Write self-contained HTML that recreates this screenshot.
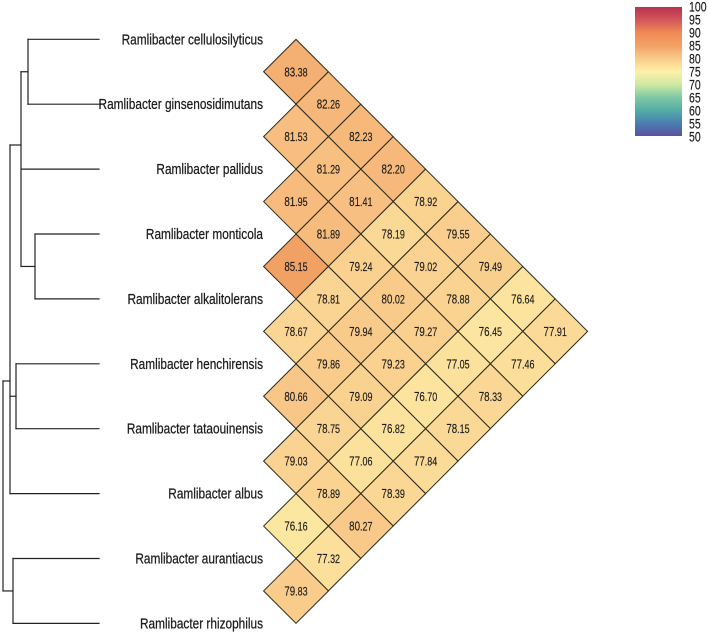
<!DOCTYPE html>
<html>
<head>
<meta charset="utf-8">
<style>
html,body{margin:0;padding:0;background:#fff;}
svg{display:block;}
text{font-family:"Liberation Sans",sans-serif;fill:#1c1c1c;}
</style>
</head>
<body>
<svg id="chart" xmlns="http://www.w3.org/2000/svg" width="708" height="634" viewBox="0 0 708 634">
<defs>
<linearGradient id="bar-gradient" x1="0" y1="1" x2="0" y2="0"></linearGradient>
</defs>
<rect x="635" y="7" width="47" height="129" fill="url(#bar-gradient)"></rect>
<g id="tree"></g>
<g id="labels"></g>
<g id="cells"></g>
<g id="ticks"></g>
</svg>
<script>
const species = ["Ramlibacter cellulosilyticus","Ramlibacter ginsenosidimutans","Ramlibacter pallidus","Ramlibacter monticola","Ramlibacter alkalitolerans","Ramlibacter henchirensis","Ramlibacter tataouinensis","Ramlibacter albus","Ramlibacter aurantiacus","Ramlibacter rhizophilus"];
const rowCellulosilyticus = [83.38,82.26,82.23,82.20,78.92,79.55,79.49,76.64,77.91];
const rowGinsenosidimutans = [81.53,81.29,81.41,78.19,79.02,78.88,76.45,77.46];
const rowPallidus = [81.95,81.89,79.24,80.02,79.27,77.05,78.33];
const rowMonticola = [85.15,78.81,79.94,79.23,76.70,78.15];
const rowAlkalitolerans = [78.67,79.86,79.09,76.82,77.84];
const rowHenchirensis = [80.66,78.75,77.06,78.39];
const rowTataouinensis = [79.03,78.89,80.27];
const rowAlbus = [76.16,77.32];
const rowAurantiacus = [79.83];
const identityRows = [rowCellulosilyticus,rowGinsenosidimutans,rowPallidus,rowMonticola,rowAlkalitolerans,rowHenchirensis,rowTataouinensis,rowAlbus,rowAurantiacus];
const colorTicks = [100,95,90,85,80,75,70,65,60,55,50];
const paletteValues = [50,55,60,65,70,75,80,85,90,95,100];
const paletteColors = ["#5b50a0","#4a7fb0","#55aca6","#7fc8a5","#cfe9a3","#fdf0a8","#f9cb8b","#f2a266","#f18a55","#d4565a","#b9334f"];
const treeLeafEnd = 99;
const tree = {x:3,kids:[
  {x:10,y:381,kids:[
    {x:21,y:145,kids:[
      {x:28,kids:[{leaf:0},{leaf:1}]},
      {leaf:2},
      {x:35,kids:[{leaf:3},{leaf:4}]}
    ]},
    {x:16,kids:[{leaf:5},{leaf:6}]},
    {leaf:7}
  ]},
  {x:13,kids:[{leaf:8},{leaf:9}]}
]};

const NS = "http://www.w3.org/2000/svg";
function make(tag, attrs, parent){
  const e = document.createElementNS(NS, tag);
  for (const k in attrs) e.setAttribute(k, attrs[k]);
  parent.appendChild(e);
  return e;
}
function leafY(i){ return 39.3 + 64.9 * i; }
function cellX(gap){ return 296 + (gap - 1) * 32.4; }
function cellY(i, gap){ return (leafY(i) + leafY(i + gap)) / 2; }
const half = 32.4;
function tickY(v){ return 7 + (100 - v) * 2.6; }
function hexRgb(h){ return [1,3,5].map(function(p){ return parseInt(h.substr(p,2),16); }); }
function colorOf(v){
  let n = paletteValues.length - 2;
  for (let k = 0; k < paletteValues.length - 1; k++){ if (v <= paletteValues[k+1]) { n = k; break; } }
  const t = (v - paletteValues[n]) / (paletteValues[n+1] - paletteValues[n]);
  const a = hexRgb(paletteColors[n]), b = hexRgb(paletteColors[n+1]);
  return "rgb(" + a.map(function(c,i){ return Math.round(c + (b[i]-c)*t); }).join(",") + ")";
}

const gradient = document.getElementById("bar-gradient");
paletteValues.forEach(function(v,i){
  make("stop", {offset: ((v-50)/50*100) + "%", "stop-color": paletteColors[i]}, gradient);
});

const cellsG = document.getElementById("cells");
identityRows.forEach(function(row,i){
  row.forEach(function(v,g){
    const gap = g + 1, cx = cellX(gap), cy = cellY(i,gap);
    const p = make("polygon", {
      points: (cx-half)+","+cy+" "+cx+","+(cy-half)+" "+(cx+half)+","+cy+" "+cx+","+(cy+half),
      fill: colorOf(v), stroke: "#2a2a1c", "stroke-width": "1"
    }, cellsG);
    
    
  });
});
identityRows.forEach(function(row,i){
  row.forEach(function(v,g){
    const gap = g + 1, cx = cellX(gap), cy = cellY(i,gap);
    const parts = v.toFixed(2).split(".");
    const t = make("text", {"text-anchor":"middle", transform:"translate("+cx+","+(cy+4.5)+") scale(0.78,1)", "font-size":"12.5", stroke:"#1c1c1c", "stroke-width":"0.15"}, cellsG);
    
    
    t.textContent = parts[0];
    const s = make("tspan", {"font-size":"11.5"}, t);
    s.textContent = "." + parts[1];
  });
});

const labelsG = document.getElementById("labels");
species.forEach(function(name,i){
  const t = make("text", {"text-anchor":"end", transform:"translate(263,"+(leafY(i)+5)+") scale(0.79,1)", "font-size":"15", stroke:"#1c1c1c", "stroke-width":"0.25"}, labelsG);
  
  
  t.textContent = name;
});

const treeG = document.getElementById("tree");
function seg(x1,y1,x2,y2){
  const l = make("line", {x1:x1,y1:y1,x2:x2,y2:y2,stroke:"#222","stroke-width":"1.2","stroke-linecap":"square"}, treeG);
  
  
}
function drawNode(n){
  if (n.leaf !== undefined) return leafY(n.leaf);
  const ys = n.kids.map(function(k){
    const y = drawNode(k);
    seg(n.x, y, k.leaf !== undefined ? treeLeafEnd : k.x, y);
    return y;
  });
  const lo = Math.min.apply(null,ys), hi = Math.max.apply(null,ys);
  seg(n.x, lo, n.x, hi);
  return n.y !== undefined ? n.y : (lo + hi) / 2;
}
drawNode(tree);

const ticksG = document.getElementById("ticks");
colorTicks.forEach(function(v){
  const t = make("text", {"text-anchor":"start", transform:"translate(689,"+(tickY(v)+4.5)+") scale(0.78,1)", "font-size":"13.5", stroke:"#1c1c1c", "stroke-width":"0.15"}, ticksG);
  
  
  t.textContent = v;
});
</script>
</body>
</html>
